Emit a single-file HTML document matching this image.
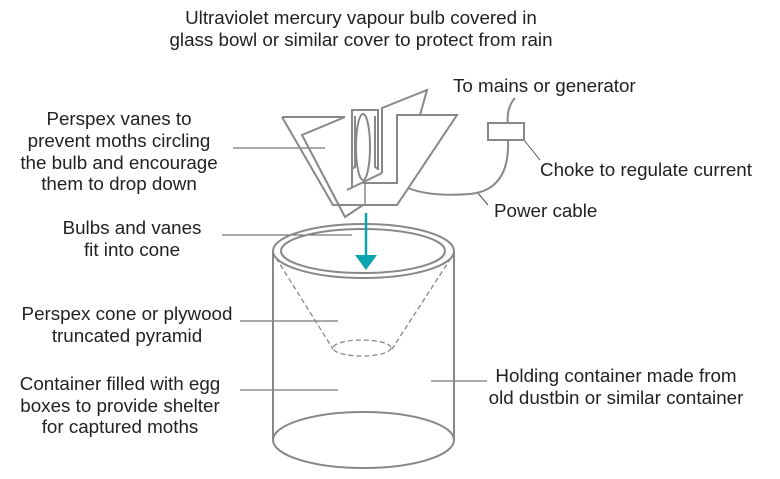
<!DOCTYPE html>
<html><head><meta charset="utf-8"><style>
body{margin:0;background:#fff;}
svg{display:block;font-family:"Liberation Sans",Arial,sans-serif;font-size:18.8px;fill:#222;}
</style></head><body>
<svg width="780" height="479" viewBox="0 0 780 479" xmlns="http://www.w3.org/2000/svg">
<g fill="#222" text-anchor="middle">
<text x="361" y="24">Ultraviolet mercury vapour bulb covered in</text>
<text x="361" y="46">glass bowl or similar cover to protect from rain</text>
<text x="119" y="125">Perspex vanes to</text>
<text x="119" y="147">prevent moths circling</text>
<text x="119" y="169">the bulb and encourage</text>
<text x="119" y="190">them to drop down</text>
<text x="132" y="234">Bulbs and vanes</text>
<text x="132" y="256">fit into cone</text>
<text x="127" y="320">Perspex cone or plywood</text>
<text x="127" y="342">truncated pyramid</text>
<text x="120" y="390">Container filled with egg</text>
<text x="120" y="412">boxes to provide shelter</text>
<text x="120" y="433">for captured moths</text>
<text x="616" y="382">Holding container made from</text>
<text x="616" y="404">old dustbin or similar container</text>
</g>
<g fill="#222">
<text x="453" y="92">To mains or generator</text>
<text x="540" y="176">Choke to regulate current</text>
<text x="494" y="217">Power cable</text>
</g>
<g fill="none" stroke="#555" stroke-width="1">
<line x1="233" y1="148" x2="325" y2="148"/>
<line x1="222" y1="235" x2="352" y2="235"/>
<line x1="240" y1="321" x2="338" y2="321"/>
<line x1="240" y1="390" x2="338" y2="390"/>
<line x1="431" y1="381" x2="487" y2="381"/>
<line x1="524" y1="140" x2="540" y2="160"/>
<line x1="477" y1="192" x2="488" y2="205"/>
</g>
<g fill="none" stroke="#888" stroke-width="2" stroke-linejoin="miter">
<path d="M515 98 Q506 108 508 125"/>
<path d="M508 140 Q510 190 470 194 Q430 197 408 188"/>
<rect x="488" y="123" width="36" height="17" fill="#fff"/>
<path d="M382 173 L382 108 L427 90 L420 115"/>
<path d="M345 117 L302 135 L345 217 L363 205"/>
<path d="M347 190 L382 173"/>
<path d="M282 117 L345 117 M282 117 L333 205 L397 205 L457 115 L397 115 L397 183 L363 183"/>
<path d="M352 188 L352 110 L378 110 L378 170"/>
<path d="M355 116 L355 167 L352 169 M375 116 L375 167 L378 169"/>
<ellipse cx="363" cy="147" rx="7" ry="33"/>
<line x1="365" y1="181" x2="365" y2="205" stroke-width="1.5"/>
<ellipse cx="363.5" cy="251" rx="90.5" ry="27"/>
<ellipse cx="363" cy="251" rx="82" ry="22"/>
<line x1="273" y1="251" x2="273" y2="440"/>
<line x1="454" y1="251" x2="454" y2="440"/>
<ellipse cx="363.5" cy="440" rx="90.5" ry="28"/>
</g>
<g fill="none" stroke="#888" stroke-width="1.3" stroke-dasharray="5,3">
<line x1="276" y1="258" x2="333" y2="349"/>
<line x1="451" y1="258" x2="392" y2="349"/>
<ellipse cx="362" cy="348" rx="29" ry="8"/>
</g>
<line x1="366" y1="213" x2="366" y2="257" stroke="#0aa3b0" stroke-width="2.5"/>
<polygon points="355,255 377,255 366,270" fill="#0aa3b0"/>
</svg>
</body></html>
